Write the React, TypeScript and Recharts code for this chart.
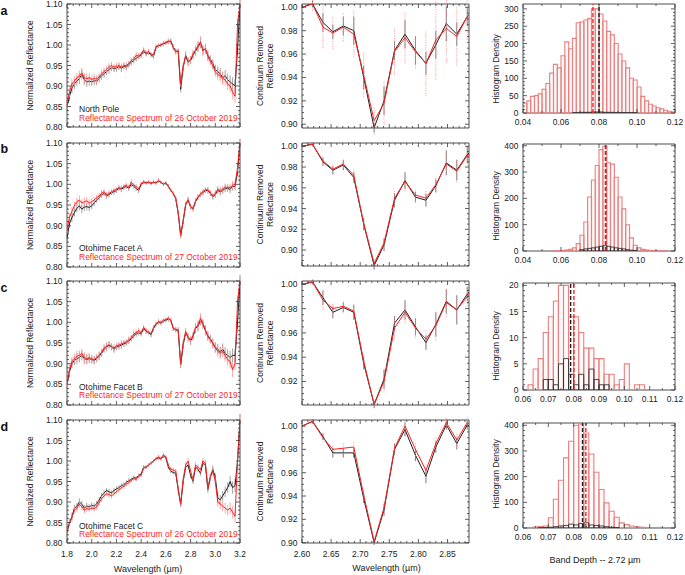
import React from 'react';
import { LineChart, Line, BarChart, Bar, XAxis, YAxis, ErrorBar, ReferenceLine, ReferenceArea } from 'recharts';

const FONT = "'Liberation Sans', Arial, Helvetica, sans-serif";
const AXIS = '#3a3a3a';
const BLACK = '#1e1e1e';
const RED = '#ff1f1f';
const GREY_ERR = '#8c8c8c';
const PINK_ERR = '#ff9090';
const HIST_RED = '#e88080';
const FS = 8.5;
const YW = 40, MT = 6, MR = 14, XH = 22;

// ---------- Left column: spectra ----------
const WL = [1.80,1.82,1.84,1.86,1.88,1.90,1.92,1.94,1.96,1.98,
  2.00,2.02,2.04,2.06,2.08,2.10,2.12,2.14,2.16,2.18,
  2.20,2.22,2.24,2.26,2.28,2.30,2.32,2.34,2.36,2.38,
  2.40,2.42,2.44,2.46,2.48,2.50,2.52,2.54,2.56,2.58,
  2.60,2.62,2.64,2.66,2.68,2.70,2.72,2.74,2.76,2.78,
  2.80,2.82,2.84,2.86,2.88,2.90,2.92,2.94,2.96,2.98,
  3.00,3.02,3.04,3.06,3.08,3.10,3.12,3.14,3.16,3.18,3.20];

const A_K = [0.850,0.875,0.895,0.905,0.912,0.918,0.928,0.915,0.910,0.912,
  0.910,0.913,0.912,0.918,0.925,0.930,0.935,0.940,0.945,0.942,
  0.944,0.947,0.943,0.948,0.946,0.952,0.958,0.962,0.968,0.972,
  0.975,0.985,0.978,0.982,0.975,0.972,0.995,0.998,1.000,1.003,
  1.005,1.008,1.010,0.995,0.985,0.985,0.892,0.945,0.975,0.960,
  0.962,0.975,0.985,0.995,1.005,0.988,0.990,0.975,0.965,0.955,
  0.940,0.935,0.930,0.920,0.925,0.915,0.910,0.905,0.900,0.990,1.100];
const A_R = [0.860,0.885,0.905,0.912,0.920,0.925,0.932,0.920,0.918,0.920,
  0.916,0.918,0.917,0.922,0.930,0.935,0.940,0.946,0.950,0.946,
  0.948,0.950,0.946,0.950,0.950,0.955,0.962,0.966,0.975,0.973,
  0.978,0.988,0.980,0.985,0.978,0.976,0.996,0.999,1.000,1.004,
  1.006,1.010,1.008,0.993,0.983,0.986,0.905,0.948,0.972,0.958,
  0.965,0.978,0.988,0.998,1.008,0.985,0.992,0.972,0.960,0.950,
  0.935,0.928,0.925,0.918,0.915,0.905,0.900,0.885,0.875,1.050,1.100];
const A_E = [0.012,0.012,0.013,0.012,0.012,0.013,0.012,0.012,0.012,0.011,
  0.010,0.011,0.010,0.009,0.010,0.010,0.009,0.010,0.009,0.008,
  0.009,0.008,0.009,0.008,0.008,0.007,0.008,0.007,0.008,0.007,
  0.006,0.007,0.006,0.006,0.005,0.006,0.005,0.005,0.005,0.006,
  0.005,0.006,0.006,0.006,0.007,0.006,0.008,0.008,0.009,0.010,
  0.009,0.010,0.011,0.012,0.013,0.012,0.011,0.012,0.010,0.011,
  0.012,0.013,0.014,0.015,0.014,0.015,0.016,0.016,0.017,0.015,0.015];

const B_K = [0.870,0.905,0.920,0.932,0.942,0.948,0.940,0.945,0.946,0.944,
  0.948,0.955,0.962,0.968,0.975,0.978,0.972,0.975,0.980,0.982,
  0.985,0.990,0.988,0.992,0.995,0.990,1.000,0.995,0.990,0.985,
  1.000,1.005,1.003,1.005,1.002,1.005,1.003,1.008,1.005,1.000,
  1.003,0.995,0.985,0.978,0.965,0.930,0.875,0.910,0.950,0.962,
  0.945,0.940,0.958,0.968,0.975,0.980,0.985,0.985,0.978,0.970,
  0.975,0.985,0.982,0.985,0.990,0.990,0.988,0.995,0.995,1.030,1.100];
const B_R = [0.890,0.920,0.935,0.948,0.958,0.962,0.955,0.958,0.960,0.955,
  0.958,0.962,0.968,0.972,0.978,0.982,0.975,0.978,0.982,0.985,
  0.988,0.992,0.990,0.995,0.998,0.993,1.005,0.998,0.995,0.988,
  1.002,1.006,1.004,1.006,1.003,1.006,1.004,1.010,1.005,1.001,
  1.004,0.996,0.986,0.978,0.966,0.932,0.878,0.912,0.952,0.963,
  0.947,0.942,0.960,0.970,0.977,0.982,0.987,0.987,0.980,0.972,
  0.978,0.988,0.985,0.988,0.993,0.993,0.992,0.998,1.000,1.040,1.100];
const B_E = [0.010,0.010,0.011,0.010,0.010,0.011,0.010,0.010,0.009,0.009,
  0.008,0.008,0.007,0.007,0.008,0.007,0.007,0.007,0.006,0.007,
  0.006,0.006,0.007,0.006,0.006,0.006,0.007,0.006,0.006,0.006,
  0.004,0.005,0.004,0.004,0.004,0.004,0.004,0.005,0.004,0.004,
  0.004,0.005,0.004,0.005,0.005,0.005,0.006,0.006,0.006,0.007,
  0.006,0.006,0.007,0.006,0.006,0.007,0.006,0.007,0.006,0.007,
  0.008,0.008,0.009,0.008,0.009,0.008,0.009,0.010,0.010,0.010,0.010];

const C_K = [0.850,0.880,0.900,0.908,0.912,0.915,0.920,0.912,0.910,0.912,
  0.910,0.908,0.912,0.918,0.925,0.935,0.940,0.945,0.940,0.935,
  0.940,0.942,0.945,0.948,0.950,0.955,0.960,0.968,0.972,0.975,
  0.972,0.985,0.978,0.975,0.970,0.985,0.995,1.000,0.998,1.003,
  1.005,1.008,1.005,0.985,0.982,0.980,0.897,0.945,0.975,0.965,
  0.955,0.965,0.985,0.990,1.005,0.995,0.980,0.968,0.960,0.950,
  0.940,0.935,0.928,0.935,0.925,0.920,0.915,0.920,0.920,1.000,1.100];
const C_R = [0.855,0.885,0.905,0.912,0.918,0.920,0.925,0.915,0.912,0.915,
  0.912,0.910,0.915,0.920,0.928,0.938,0.942,0.946,0.942,0.938,
  0.943,0.945,0.948,0.950,0.953,0.958,0.963,0.972,0.975,0.980,
  0.975,0.988,0.980,0.977,0.972,0.988,0.997,1.002,1.000,1.005,
  1.007,1.010,1.005,0.985,0.983,0.982,0.900,0.948,0.978,0.962,
  0.958,0.968,0.988,0.993,1.010,0.998,0.982,0.965,0.958,0.948,
  0.938,0.930,0.925,0.930,0.920,0.910,0.905,0.885,0.900,1.050,1.100];
const C_E = [0.012,0.013,0.012,0.012,0.013,0.012,0.012,0.013,0.012,0.011,
  0.010,0.010,0.009,0.010,0.009,0.009,0.010,0.009,0.008,0.009,
  0.008,0.008,0.009,0.008,0.007,0.008,0.007,0.008,0.007,0.007,
  0.006,0.006,0.006,0.005,0.006,0.005,0.005,0.006,0.005,0.005,
  0.005,0.006,0.006,0.006,0.006,0.007,0.008,0.009,0.008,0.010,
  0.010,0.009,0.011,0.012,0.012,0.011,0.012,0.011,0.010,0.011,
  0.012,0.013,0.013,0.014,0.015,0.015,0.016,0.017,0.016,0.015,0.015];

const D_K = [0.825,0.850,0.865,0.885,0.890,0.900,0.895,0.885,0.890,0.888,
  0.892,0.890,0.895,0.905,0.915,0.922,0.928,0.925,0.922,0.928,
  0.932,0.935,0.940,0.942,0.948,0.952,0.955,0.960,0.958,0.965,
  0.968,0.985,0.985,0.990,0.995,1.000,1.005,1.008,1.005,1.012,
  1.008,0.985,0.975,0.972,0.970,0.930,0.893,0.950,0.985,0.990,
  0.965,0.950,0.985,0.980,0.970,0.995,0.990,0.930,0.960,0.980,
  0.960,0.910,0.905,0.915,0.925,0.935,0.950,0.935,0.940,1.000,1.100];
const D_R = [0.830,0.848,0.862,0.880,0.885,0.895,0.888,0.880,0.884,0.882,
  0.885,0.884,0.888,0.898,0.908,0.915,0.920,0.918,0.915,0.920,
  0.925,0.930,0.935,0.938,0.943,0.948,0.952,0.957,0.955,0.962,
  0.965,0.983,0.984,0.990,0.995,1.000,1.006,1.010,1.006,1.015,
  1.010,0.990,0.980,0.978,0.975,0.933,0.896,0.955,0.990,1.000,
  0.975,0.955,0.990,0.985,0.978,1.000,0.995,0.935,0.962,0.975,
  0.950,0.900,0.895,0.890,0.885,0.880,0.885,0.875,0.865,1.000,1.100];
const D_E = [0.008,0.008,0.009,0.008,0.008,0.009,0.008,0.008,0.008,0.007,
  0.007,0.007,0.008,0.007,0.007,0.007,0.006,0.007,0.006,0.006,
  0.006,0.006,0.006,0.006,0.005,0.006,0.005,0.005,0.005,0.005,
  0.004,0.005,0.004,0.004,0.004,0.004,0.004,0.005,0.004,0.005,
  0.004,0.005,0.005,0.005,0.006,0.006,0.006,0.006,0.007,0.007,
  0.007,0.006,0.007,0.007,0.006,0.007,0.008,0.008,0.009,0.009,
  0.010,0.011,0.012,0.012,0.013,0.013,0.014,0.015,0.016,0.015,0.015];

// ---------- Middle column: continuum removed ----------
const MWL = [2.600,2.618,2.636,2.653,2.671,2.689,2.706,2.724,2.741,2.759,2.777,2.795,2.813,2.830,2.848,2.866,2.884,2.901];
const MA_K = [1.000,1.003,0.987,0.979,0.984,0.980,0.940,0.897,0.920,0.963,0.977,0.963,0.952,0.968,0.986,0.977,0.992,1.000];
const MA_R = [1.000,1.003,0.983,0.978,0.983,0.977,0.942,0.903,0.918,0.962,0.974,0.962,0.952,0.972,0.982,0.975,0.992,1.000];
const MA_KE = [0,0.003,0.008,0.006,0.008,0.012,0.010,0.004,0.012,0.008,0.012,0.012,0.010,0.012,0.015,0.010,0.008,0];
const MA_RE = [0,0.006,0.018,0.014,0.012,0.020,0.019,0.012,0.019,0.020,0.022,0.014,0.028,0.034,0.030,0.025,0.020,0];
const MB_K = [1.000,1.002,0.985,0.977,0.982,0.970,0.925,0.885,0.905,0.948,0.967,0.951,0.948,0.962,0.984,0.977,0.992,1.000];
const MB_R = [1.000,1.002,0.986,0.978,0.983,0.972,0.926,0.887,0.907,0.950,0.966,0.953,0.950,0.963,0.983,0.976,0.991,1.000];
const MB_KE = [0,0.002,0.004,0.004,0.005,0.005,0.006,0.004,0.006,0.007,0.008,0.005,0.006,0.006,0.012,0.010,0.008,0];
const MB_RE = [0,0.002,0.004,0.005,0.004,0.006,0.006,0.004,0.006,0.008,0.009,0.006,0.008,0.008,0.010,0.011,0.010,0];
const MC_K = [1.000,1.002,0.989,0.977,0.981,0.977,0.935,0.901,0.922,0.968,0.979,0.965,0.952,0.967,0.986,0.979,0.992,1.000];
const MC_R = [1.000,1.002,0.987,0.980,0.982,0.978,0.937,0.901,0.920,0.964,0.977,0.964,0.955,0.966,0.985,0.979,0.990,1.000];
const MC_KE = [0,0.002,0.006,0.005,0.004,0.006,0.005,0.003,0.008,0.006,0.008,0.007,0.006,0.010,0.010,0.012,0.006,0];
const MC_RE = [0,0.002,0.008,0.005,0.005,0.007,0.006,0.003,0.009,0.010,0.009,0.008,0.008,0.012,0.012,0.012,0.008,0];
const MD_K = [1.000,1.004,0.991,0.977,0.977,0.977,0.938,0.900,0.928,0.980,0.997,0.975,0.957,0.982,1.001,0.985,1.001,0.995];
const MD_R = [1.000,1.004,0.990,0.980,0.981,0.982,0.941,0.901,0.930,0.981,1.000,0.980,0.962,0.985,1.003,0.988,1.003,0.997];
const MD_KE = [0,0.002,0.003,0.004,0.004,0.004,0.004,0.002,0.005,0.005,0.006,0.005,0.006,0.005,0.004,0.005,0.004,0];
const MD_RE = [0,0.002,0.004,0.004,0.005,0.005,0.005,0.002,0.006,0.005,0.007,0.006,0.006,0.006,0.005,0.006,0.005,0];

// ---------- Right column: histograms ----------
const HX_AB = [0.041,0.043,0.045,0.047,0.049,0.051,0.053,0.055,0.057,0.059,
  0.061,0.063,0.065,0.067,0.069,0.071,0.073,0.075,0.077,0.079,
  0.081,0.083,0.085,0.087,0.089,0.091,0.093,0.095,0.097,0.099,
  0.101,0.103,0.105,0.107,0.109,0.111,0.113,0.115,0.117,0.119];
const HX_CD = [0.061,0.063,0.065,0.067,0.069,0.071,0.073,0.075,0.077,0.079,
  0.081,0.083,0.085,0.087,0.089,0.091,0.093,0.095,0.097,0.099,
  0.101,0.103,0.105,0.107,0.109,0.111,0.113,0.115,0.117,0.119];
const HA_R = [28,35,48,50,55,68,85,115,140,130,165,205,185,215,260,262,268,272,300,300,
  285,265,235,225,200,170,150,130,100,95,75,48,35,25,20,15,12,8,5,3];
const HA_K = [0,0,0,0,0,0,0,0,0,0,0,0,0,1,1,2,2,2,3,3,3,2,2,2,1,1,1,1,1,1,0,0,0,0,0,0,0,0,0,0];
const HB_R = [0,0,0,0,0,0,0,0,1,1,2,4,6,12,28,60,110,205,270,325,385,398,335,330,280,205,160,100,50,22,
  12,6,4,2,2,1,1,1,0,0];
const HB_K = [0,0,0,0,0,0,0,0,0,0,0,0,0,0,0,5,8,10,12,15,18,20,18,15,12,10,8,5,3,2,0,0,0,0,0,0,0,0,0,0];
const HC_R = [0,1,4,6,11,14,17,20,20,14,14,11,8,8,6,6,3,3,1,2,5,0,1,1,0,0,0,0,0,0];
const HC_K = [0,0,0,0,2,2,1,5,6,3,1,3,1,4,2,1,1,0,0,0,0,0,0,0,0,0,0,0,0,0];
const HD_R = [1,2,4,6,8,40,112,186,273,338,400,405,370,288,217,150,98,65,42,20,13,8,5,3,2,2,1,1,2,1];
const HD_K = [0,0,0,1,2,3,5,8,10,15,12,18,20,12,10,8,5,3,2,0,0,0,0,0,0,0,0,0,0,0];
const MEAN_K = [0.0800, 0.0834, 0.0788, 0.0835];
const MEAN_R = [0.0768, 0.0836, 0.0801, 0.0848];

// ---------- tick labels ----------
const SPEC_X_MAJ = [1.8, 2.0, 2.2, 2.4, 2.6, 2.8, 3.0, 3.2];
const SPEC_Y_MAJ = [0.80, 0.85, 0.90, 0.95, 1.00, 1.05, 1.10];
const MID_X_MAJ = [2.60, 2.65, 2.70, 2.75, 2.80, 2.85];
const MID_Y_MAJ = [0.90, 0.92, 0.94, 0.96, 0.98, 1.00];
const HAB_X_MAJ = [0.04, 0.06, 0.08, 0.10, 0.12];
const HCD_X_MAJ = [0.06, 0.07, 0.08, 0.09, 0.10, 0.11, 0.12];
const HA_Y_MAJ = [0, 50, 100, 150, 200, 250, 300];
const HB_Y_MAJ = [0, 100, 200, 300, 400];
const HC_Y_MAJ = [0, 5, 10, 15, 20];

const NAMES = ['North Pole', 'Otohime Facet A', 'Otohime Facet B', 'Otohime Facet C'];
const DATES = ['Reflectance Spectrum of 26 October 2019', 'Reflectance Spectrum of 27 October 2019',
  'Reflectance Spectrum of 27 October 2019', 'Reflectance Spectrum of 26 October 2019'];
const LETTERS = ['a', 'b', 'c', 'd'];

function range(a: number, b: number, step: number) {
  const out: number[] = [];
  const n = Math.round((b - a) / step);
  for (let i = 0; i <= n; i++) out.push(+(a + i * step).toFixed(6));
  return out;
}
const isIn = (list: number[], v: number) => list.some((m) => Math.abs(m - v) < 1e-7);

function makeXTick(majors: number[], plotH: number, labelDy: number, digits: number, show: boolean) {
  return (p: any) => {
    const { x, y, payload } = p;
    const v = payload.value;
    const major = isIn(majors, v);
    const len = major ? 4 : 2;
    return (
      <g>
        <line x1={x} x2={x} y1={y} y2={y - len} stroke={AXIS} strokeWidth={0.8} />
        <line x1={x} x2={x} y1={y - plotH} y2={y - plotH + len} stroke={AXIS} strokeWidth={0.8} />
        {show && major ? (
          <text x={x} y={y + labelDy} textAnchor="middle" fontSize={FS} fontFamily={FONT} fill="#222">{v.toFixed(digits)}</text>
        ) : null}
      </g>
    );
  };
}
function makeYTick(majors: number[], plotW: number, digits: number) {
  return (p: any) => {
    const { x, y, payload } = p;
    const v = payload.value;
    const major = isIn(majors, v);
    const len = major ? 4 : 2;
    return (
      <g>
        <line x1={x} x2={x + len} y1={y} y2={y} stroke={AXIS} strokeWidth={0.8} />
        <line x1={x + plotW} x2={x + plotW - len} y1={y} y2={y} stroke={AXIS} strokeWidth={0.8} />
        {major ? (
          <text x={x - 4.5} y={y + 3} textAnchor="end" fontSize={FS} fontFamily={FONT} fill="#222">{v.toFixed(digits)}</text>
        ) : null}
      </g>
    );
  };
}

type Frame = { left: number; top: number; w: number; h: number };

function SpecPanel(props: any) {
  const { frame, data, xDomain, yDomain, xTicks, xMajors, xDigits, yTicks, yMajors, yDigits, showX, dotted } = props;
  const f: Frame = frame;
  const width = YW + f.w + MR;
  const height = MT + f.h + XH;
  return (
    <div style={{ position: 'absolute', left: f.left - YW, top: f.top - MT, width, height }}>
      <LineChart width={width} height={height} data={data} margin={{ top: MT, right: MR, left: 0, bottom: 0 }}>
        <XAxis type="number" dataKey="x" domain={xDomain} allowDataOverflow ticks={xTicks} interval={0}
          tickSize={0} tickMargin={0} axisLine={false} tickLine={false} height={XH}
          tick={makeXTick(xMajors, f.h, 13.5, xDigits, showX)} />
        <YAxis type="number" domain={yDomain} allowDataOverflow ticks={yTicks} interval={0}
          tickSize={0} tickMargin={0} axisLine={false} tickLine={false} width={YW}
          tick={makeYTick(yMajors, f.w, yDigits)} />
        <Line dataKey="k" stroke={BLACK} strokeWidth={1} dot={false} isAnimationActive={false}>
          <ErrorBar dataKey="ke" width={0} stroke={dotted ? '#555' : GREY_ERR} strokeWidth={0.8} direction="y" />
        </Line>
        <Line dataKey="r" stroke={RED} strokeWidth={1} dot={false} isAnimationActive={false}>
          <ErrorBar dataKey="re" width={0} stroke={PINK_ERR} strokeWidth={0.8} direction="y"
            strokeDasharray={dotted ? '1.2 1.2' : undefined} />
        </Line>
        <ReferenceArea x1={xDomain[0]} x2={xDomain[1]} y1={yDomain[0]} y2={yDomain[1]} fill="none" stroke={AXIS} strokeWidth={0.9} />
      </LineChart>
    </div>
  );
}

function HistPanel(props: any) {
  const { frame, data, xDomain, yDomain, xTicks, xMajors, yTicks, yMajors, meanK, meanR } = props;
  const f: Frame = frame;
  const width = YW + f.w + MR;
  const height = MT + f.h + XH;
  return (
    <div style={{ position: 'absolute', left: f.left - YW, top: f.top - MT, width, height }}>
      <BarChart width={width} height={height} data={data} margin={{ top: MT, right: MR, left: 0, bottom: 0 }}
        barCategoryGap={0} barGap={0}>
        <XAxis xAxisId="r" type="number" dataKey="c" domain={xDomain} allowDataOverflow ticks={xTicks} interval={0}
          tickSize={0} tickMargin={0} axisLine={false} tickLine={false} height={XH}
          tick={makeXTick(xMajors, f.h, 12, 2, true)} />
        <XAxis xAxisId="k" type="number" dataKey="c" domain={xDomain} allowDataOverflow hide height={0} orientation="top" />
        <YAxis type="number" domain={yDomain} allowDataOverflow ticks={yTicks} interval={0}
          tickSize={0} tickMargin={0} axisLine={false} tickLine={false} width={YW}
          tick={makeYTick(yMajors, f.w, 0)} />
        <Bar xAxisId="r" dataKey="r" fill="rgba(255,225,225,0.2)" stroke={HIST_RED} strokeWidth={1.1} isAnimationActive={false} />
        <Bar xAxisId="k" dataKey="k" fill="none" stroke="#333" strokeWidth={0.9} isAnimationActive={false} />
        <ReferenceLine xAxisId="r" x={meanK} stroke={BLACK} strokeWidth={1.4} strokeDasharray="4 2" />
        <ReferenceLine xAxisId="r" x={meanR} stroke={RED} strokeWidth={1.4} strokeDasharray="4 2" />
        <ReferenceArea xAxisId="r" x1={xDomain[0]} x2={xDomain[1]} y1={yDomain[0]} y2={yDomain[1]} fill="none" stroke={AXIS} strokeWidth={0.9} />
      </BarChart>
    </div>
  );
}

const SPEC_SETS = [
  { k: A_K, r: A_R, e: A_E },
  { k: B_K, r: B_R, e: B_E },
  { k: C_K, r: C_R, e: C_E },
  { k: D_K, r: D_R, e: D_E },
];
const MID_SETS = [
  { k: MA_K, r: MA_R, ke: MA_KE, re: MA_RE },
  { k: MB_K, r: MB_R, ke: MB_KE, re: MB_RE },
  { k: MC_K, r: MC_R, ke: MC_KE, re: MC_RE },
  { k: MD_K, r: MD_R, ke: MD_KE, re: MD_RE },
];
const HIST_SETS = [
  { x: HX_AB, r: HA_R, k: HA_K },
  { x: HX_AB, r: HB_R, k: HB_K },
  { x: HX_CD, r: HC_R, k: HC_K },
  { x: HX_CD, r: HD_R, k: HD_K },
];

const LEFT_FRAMES: Frame[] = [
  { left: 67, top: 4, w: 173, h: 123 },
  { left: 67, top: 143, w: 173, h: 124 },
  { left: 67, top: 281, w: 173, h: 124 },
  { left: 67, top: 420, w: 173, h: 123 },
];
const MID_FRAMES: Frame[] = [
  { left: 302, top: 4, w: 167, h: 124 },
  { left: 302, top: 143, w: 167, h: 123 },
  { left: 302, top: 281, w: 167, h: 124 },
  { left: 302, top: 420, w: 167, h: 123 },
];
const HIST_FRAMES: Frame[] = [
  { left: 523, top: 4, w: 152, h: 109 },
  { left: 523, top: 144, w: 152, h: 107 },
  { left: 523, top: 283, w: 152, h: 107 },
  { left: 523, top: 423, w: 152, h: 105 },
];
const MID_Y_DOMAINS = [[0.8968, 1.0028], [0.8846, 1.0032], [0.9006, 1.0028], [0.8997, 1.0052]];
const HIST_X_DOMAINS = [[0.04, 0.12], [0.04, 0.12], [0.06, 0.12], [0.06, 0.12]];
const HIST_Y_DOMAINS = [[0, 314], [0, 406.5], [0, 20.45], [0, 409]];
const HIST_Y_MAJORS = [HA_Y_MAJ, HB_Y_MAJ, HC_Y_MAJ, HB_Y_MAJ];
const HIST_Y_MINOR = [10, 20, 1, 20];

const LEGEND_Y = [[112, 120.5], [251, 260], [389.5, 398], [528.5, 537.3]];
const LETTER_Y = [15, 153, 292, 431];
const HIST_TITLE_Y = [69, 206, 346, 474];

export default function App() {
  const specX = range(1.8, 3.2, 0.05);
  const specY = range(0.80, 1.10, 0.01);
  const midX = range(2.60, 2.885, 0.01);
  return (
    <div style={{ position: 'absolute', left: 0, top: 0, width: 685, height: 575, background: '#fff', overflow: 'hidden' }}>
      {SPEC_SETS.map((s, i) => (
        <SpecPanel key={'s' + i} frame={LEFT_FRAMES[i]}
          data={WL.map((x, j) => ({ x, k: s.k[j], r: s.r[j], ke: s.e[j], re: s.e[j] }))}
          xDomain={[1.8, 3.2]} yDomain={[0.80, 1.10]} xTicks={specX} xMajors={SPEC_X_MAJ} xDigits={1}
          yTicks={specY} yMajors={SPEC_Y_MAJ} yDigits={2} showX={i === 3} dotted={false} />
      ))}
      {MID_SETS.map((s, i) => {
        const yd = MID_Y_DOMAINS[i];
        const yTicks = range(Math.ceil(yd[0] / 0.005 - 1e-6) * 0.005, 1.0, 0.005);
        return (
          <SpecPanel key={'m' + i} frame={MID_FRAMES[i]}
            data={MWL.map((x, j) => ({ x, k: s.k[j], r: s.r[j], ke: s.ke[j], re: s.re[j] }))}
            xDomain={[2.60, 2.887]} yDomain={yd} xTicks={midX} xMajors={MID_X_MAJ} xDigits={2}
            yTicks={yTicks} yMajors={MID_Y_MAJ} yDigits={2} showX={i === 3} dotted={true} />
        );
      })}
      {HIST_SETS.map((s, i) => {
        const xd = HIST_X_DOMAINS[i];
        const yd = HIST_Y_DOMAINS[i];
        const xTicks = i < 2 ? range(0.04, 0.12, 0.01) : range(0.06, 0.12, 0.005);
        const yTicks = range(0, HIST_Y_MAJORS[i][HIST_Y_MAJORS[i].length - 1], HIST_Y_MINOR[i]);
        return (
          <HistPanel key={'h' + i} frame={HIST_FRAMES[i]}
            data={s.x.map((c, j) => ({ c, r: s.r[j], k: s.k[j] }))}
            xDomain={xd} yDomain={yd} xTicks={xTicks} xMajors={i < 2 ? HAB_X_MAJ : HCD_X_MAJ}
            yTicks={yTicks} yMajors={HIST_Y_MAJORS[i]} meanK={MEAN_K[i]} meanR={MEAN_R[i]} />
        );
      })}
      <svg width={685} height={575} style={{ position: 'absolute', left: 0, top: 0, pointerEvents: 'none' }}
        fontFamily={FONT}>
        {LETTERS.map((l, i) => (
          <text key={'l' + i} x={0.5} y={LETTER_Y[i]} fontSize={12.5} fontWeight="bold" fill="#111">{l}</text>
        ))}
        {LEFT_FRAMES.map((f, i) => (
          <g key={'lt' + i}>
            <text x={33.3} y={f.top + f.h / 2} transform={`rotate(-90 33.3 ${f.top + f.h / 2})`} textAnchor="middle"
              fontSize={FS} fill="#222">Normalized Reflectance</text>
            <text x={79} y={LEGEND_Y[i][0]} fontSize={FS} fill="#222">{NAMES[i]}</text>
            <text x={79} y={LEGEND_Y[i][1]} fontSize={FS} fill={RED}>{DATES[i]}</text>
          </g>
        ))}
        {MID_FRAMES.map((f, i) => (
          <g key={'mt' + i}>
            <text x={263.3} y={f.top + f.h / 2} transform={`rotate(-90 263.3 ${f.top + f.h / 2})`} textAnchor="middle"
              fontSize={FS} fill="#222">Continuum Removed</text>
            <text x={272.7} y={f.top + f.h / 2} transform={`rotate(-90 272.7 ${f.top + f.h / 2})`} textAnchor="middle"
              fontSize={FS} fill="#222">Reflectance</text>
          </g>
        ))}
        {HIST_FRAMES.map((f, i) => (
          <text key={'ht' + i} x={499} y={HIST_TITLE_Y[i]} transform={`rotate(-90 499 ${HIST_TITLE_Y[i]})`}
            textAnchor="middle" fontSize={FS} fill="#222">Histogram Density</text>
        ))}
        <text x={148} y={571.5} textAnchor="middle" fontSize={9} fill="#222">Wavelength (µm)</text>
        <text x={386.5} y={571} textAnchor="middle" fontSize={9} fill="#222">Wavelength (µm)</text>
        <text x={595} y={563} textAnchor="middle" fontSize={9} fill="#222">Band Depth -- 2.72 µm</text>
      </svg>
    </div>
  );
}
